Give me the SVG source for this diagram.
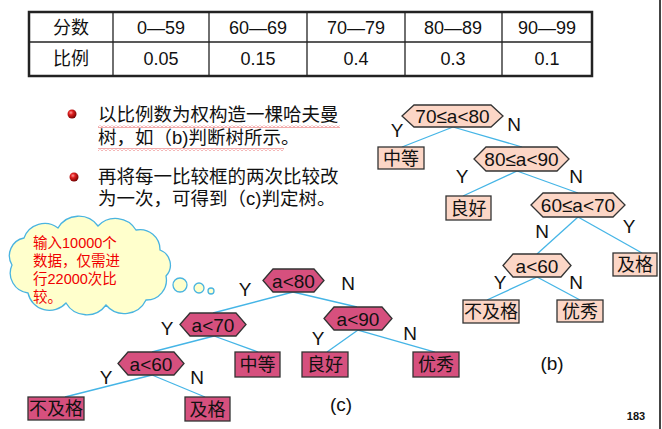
<svg xmlns="http://www.w3.org/2000/svg" width="662" height="429" viewBox="0 0 662 429">
<style>
.tb{font-family:"Liberation Sans","Noto Sans CJK SC",sans-serif;font-size:18px;fill:#111;text-anchor:middle}
.bt{font-family:"Liberation Sans","Noto Sans CJK SC",sans-serif;font-size:18.5px;fill:#111}
.cl{font-family:"Liberation Sans","Noto Sans CJK SC",sans-serif;font-size:14.5px;fill:#f00000}
.lbl{font-family:"Noto Sans CJK SC",sans-serif;font-size:18px;fill:#111;text-anchor:middle}
.yn{font-family:"Liberation Sans",sans-serif;font-size:19px;fill:#111;text-anchor:middle}
.hc{fill:#d6507e;stroke:#333;stroke-width:1.3}
.hb{fill:#fcd6c6;stroke:#333;stroke-width:1.3}
.ln{stroke:#45b5e6;stroke-width:1.3;fill:none}
</style>
<defs>
<radialGradient id="ball" cx="0.38" cy="0.35" r="0.7">
<stop offset="0" stop-color="#ff9a9a"/>
<stop offset="0.35" stop-color="#e02020"/>
<stop offset="1" stop-color="#6a0000"/>
</radialGradient>
<pattern id="wave" width="4" height="3" patternUnits="userSpaceOnUse">
<path d="M0,2.5 L2,0.5 L4,2.5" stroke="#e03030" fill="none" stroke-width="0.8"/>
</pattern>
</defs>
<rect width="662" height="429" fill="#fff"/>
<line x1="660" y1="0" x2="660" y2="429" stroke="#444" stroke-width="2"/>

<g id="table">
<rect x="29" y="12" width="563" height="64" fill="none" stroke="#222" stroke-width="2.5"/>
<line x1="29" y1="42" x2="592" y2="42" stroke="#222" stroke-width="1.3"/>
<g stroke="#222" stroke-width="1.3">
<line x1="113" y1="12" x2="113" y2="76"/>
<line x1="209" y1="12" x2="209" y2="76"/>
<line x1="307" y1="12" x2="307" y2="76"/>
<line x1="405" y1="12" x2="405" y2="76"/>
<line x1="502" y1="12" x2="502" y2="76"/>
</g>
<text class="tb" x="71" y="34">分数</text>
<text class="tb" x="161" y="34">0—59</text>
<text class="tb" x="258" y="34">60—69</text>
<text class="tb" x="356" y="34">70—79</text>
<text class="tb" x="453" y="34">80—89</text>
<text class="tb" x="547" y="34">90—99</text>
<text class="tb" x="71" y="65">比例</text>
<text class="tb" x="161" y="65">0.05</text>
<text class="tb" x="258" y="65">0.15</text>
<text class="tb" x="356" y="65">0.4</text>
<text class="tb" x="453" y="65">0.3</text>
<text class="tb" x="547" y="65">0.1</text>
</g>

<g id="bullets">
<circle cx="72" cy="114" r="4.5" fill="url(#ball)"/>
<circle cx="74" cy="177" r="4.5" fill="url(#ball)"/>
<text class="bt" x="98" y="121">以比例数为权构造一棵哈夫曼</text>
<text class="bt" x="98" y="144">树，如（b)判断树所示。</text>
<rect x="98" y="125" width="242" height="3" fill="url(#wave)"/>
<rect x="98" y="148" width="186" height="3" fill="url(#wave)"/>
<text class="bt" x="98" y="183">再将每一比较框的两次比较改</text>
<text class="bt" x="98" y="205">为一次，可得到（c)判定树。</text>
</g>

<g id="cloud">
<path d="M12,265 A18,18 0 0 1 24,238 A22,22 0 0 1 58,228 A24,24 0 0 1 98,226 A24,24 0 0 1 136,230 A20,20 0 0 1 160,250 A16,16 0 0 1 166,276 A20,20 0 0 1 146,300 A24,24 0 0 1 106,305 A24,24 0 0 1 66,303 A22,22 0 0 1 28,293 A20,20 0 0 1 12,265 Z" fill="#ffffcc" stroke="#4ab4e0" stroke-width="1.3"/>
<circle cx="180" cy="285" r="7" fill="#ffffcc" stroke="#4ab4e0" stroke-width="1.3"/>
<circle cx="199" cy="288" r="5" fill="#ffffcc" stroke="#4ab4e0" stroke-width="1.3"/>
<circle cx="211" cy="291" r="3" fill="#ffffcc" stroke="#4ab4e0" stroke-width="1.3"/>
<text class="cl" x="33" y="248">输入10000个</text>
<text class="cl" x="33" y="266">数据，仅需进</text>
<text class="cl" x="33" y="284">行22000次比</text>
<text class="cl" x="33" y="302">较。</text>
</g>

<g id="connectors">
<line class="ln" x1="293" y1="292" x2="213" y2="313"/>
<line class="ln" x1="293" y1="292" x2="357" y2="307"/>
<line class="ln" x1="214" y1="336" x2="152" y2="352"/>
<line class="ln" x1="214" y1="336" x2="258" y2="352"/>
<line class="ln" x1="152" y1="375" x2="65" y2="397"/>
<line class="ln" x1="152" y1="375" x2="205" y2="397"/>
<line class="ln" x1="358" y1="330" x2="327" y2="352"/>
<line class="ln" x1="358" y1="330" x2="435" y2="352"/>
<line class="ln" x1="453" y1="127" x2="402" y2="147"/>
<line class="ln" x1="453" y1="127" x2="522" y2="147"/>
<line class="ln" x1="517" y1="171" x2="463" y2="196"/>
<line class="ln" x1="517" y1="171" x2="578" y2="193"/>
<line class="ln" x1="578" y1="217" x2="537" y2="254"/>
<line class="ln" x1="578" y1="217" x2="642" y2="253"/>
<line class="ln" x1="537" y1="277" x2="487" y2="300"/>
<line class="ln" x1="537" y1="277" x2="580" y2="300"/>
</g>

<g id="c-a80"><polygon class="hc" points="263,280.5 273,269 314,269 324,280.5 314,292 273,292"/><text class="yn" x="293.5" y="287.5">a&lt;80</text></g>
<g id="c-a70"><polygon class="hc" points="180,324.5 190,313 236,313 246,324.5 236,336 190,336"/><text class="yn" x="213" y="331.5">a&lt;70</text></g>
<g id="c-a60"><polygon class="hc" points="118,363.5 128,352 174,352 184,363.5 174,375 128,375"/><text class="yn" x="151" y="370.5">a&lt;60</text></g>
<g id="c-a90"><polygon class="hc" points="324,318.5 334,307 382,307 392,318.5 382,330 334,330"/><text class="yn" x="358" y="325.5">a&lt;90</text></g>
<g id="c-zd"><rect class="hc" x="235" y="352" width="45" height="25"/><text class="lbl" x="257.5" y="371">中等</text></g>
<g id="c-bjg"><rect class="hc" x="28" y="397" width="56" height="23"/><text class="lbl" x="56" y="415">不及格</text></g>
<g id="c-jg"><rect class="hc" x="185" y="397" width="45" height="24"/><text class="lbl" x="207.5" y="415.5">及格</text></g>
<g id="c-lh"><rect class="hc" x="302" y="352" width="46" height="25"/><text class="lbl" x="325" y="371">良好</text></g>
<g id="c-yx"><rect class="hc" x="413" y="352" width="46" height="25"/><text class="lbl" x="436" y="371">优秀</text></g>

<g id="b-7080"><polygon class="hb" points="402,116 414,105 491,105 503,116 491,127 414,127"/><text class="yn" x="452.5" y="123">70≤a&lt;80</text></g>
<g id="b-zd"><rect class="hb" x="378" y="147" width="46" height="22"/><text class="lbl" x="401" y="164.5">中等</text></g>
<g id="b-8090"><polygon class="hb" points="474,159 486,147 557,147 569,159 557,171 486,171"/><text class="yn" x="521.5" y="166">80≤a&lt;90</text></g>
<g id="b-lh"><rect class="hb" x="446" y="196" width="45" height="24"/><text class="lbl" x="468.5" y="214.5">良好</text></g>
<g id="b-6070"><polygon class="hb" points="531,205 543,193 613,193 625,205 613,217 543,217"/><text class="yn" x="578" y="212">60≤a&lt;70</text></g>
<g id="b-a60"><polygon class="hb" points="503,265.5 513,254 561,254 571,265.5 561,277 513,277"/><text class="yn" x="537" y="272.5">a&lt;60</text></g>
<g id="b-jg"><rect class="hb" x="613" y="253" width="44" height="23"/><text class="lbl" x="635" y="271">及格</text></g>
<g id="b-bjg"><rect class="hb" x="463" y="300" width="56" height="23"/><text class="lbl" x="491" y="318">不及格</text></g>
<g id="b-yx"><rect class="hb" x="557" y="300" width="46" height="22"/><text class="lbl" x="580" y="317.5">优秀</text></g>

<g id="labels">
<text class="yn" x="397" y="137">Y</text>
<text class="yn" x="514" y="131">N</text>
<text class="yn" x="462" y="183">Y</text>
<text class="yn" x="576" y="183">N</text>
<text class="yn" x="542" y="238">N</text>
<text class="yn" x="629" y="233">Y</text>
<text class="yn" x="500" y="289">Y</text>
<text class="yn" x="576" y="289">N</text>
<text class="yn" x="245" y="296">Y</text>
<text class="yn" x="167" y="335">Y</text>
<text class="yn" x="106" y="384">Y</text>
<text class="yn" x="197" y="384">N</text>
<text class="yn" x="348" y="290">N</text>
<text class="yn" x="318" y="345">Y</text>
<text class="yn" x="410" y="340">N</text>
<text class="yn" x="552" y="370">(b)</text>
<text class="yn" x="341" y="411">(c)</text>
<text x="636" y="420" font-family="Liberation Sans,sans-serif" font-size="11" font-weight="bold" fill="#111" text-anchor="middle">183</text>
</g>
</svg>
